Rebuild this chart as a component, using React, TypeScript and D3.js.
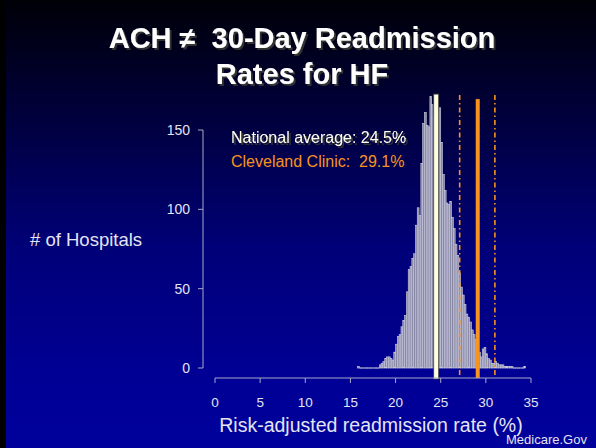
import React from "react";
import * as d3 from "d3";

const W = 596;
const H = 448;

// Histogram of risk-adjusted 30-day HF readmission rates
const binStart = 15.8;
const binWidth = 0.2;
const counts = [
  1, 0, 0, 0, 0, 0, 0, 0, 0, 0, 0, 0,
  2, 3, 4, 6, 7, 7, 6, 5, 10, 15, 20, 21, 26, 30, 33, 48, 62, 64, 69, 72,
  90, 101, 96, 129, 154, 161, 153, 152, 171, 166, 158, 160, 162, 164, 142,
  122, 112, 104, 103, 105, 95, 88, 78, 71, 60, 51, 46, 40, 34, 32, 29, 24,
  21, 18, 14, 10, 7, 12, 13, 9, 6, 5, 3, 3, 4, 3, 2, 2, 2, 1, 1, 1, 1, 1,
  0, 0, 0, 0, 0, 0, 1,
];

const xTicks = [0, 5, 10, 15, 20, 25, 30, 35];
const yTicks = [0, 50, 100, 150];

const nationalAverage = 24.5;
const clevelandClinic = 29.1;
const ciBounds = [27.1, 31.0];
const refLineTop = 172;

const titleLines = ["ACH \u2260\u00a0 30-Day Readmission", "Rates for HF"];

export default function App() {
  const x = d3.scaleLinear().domain([0, 35]).range([215, 531]);
  const y = d3.scaleLinear().domain([0, 150]).range([368, 130]);
  const axisY = 378;
  const axisX = 203;
  const font = "'Liberation Sans', Arial, sans-serif";
  const tickColor = "#a8a8c8";
  const labelColor = "#e4e4f2";

  const bins = counts.map((c, i) => ({
    x0: binStart + i * binWidth,
    x1: binStart + (i + 1) * binWidth,
    c,
  }));

  return (
    <svg
      width={W}
      height={H}
      style={{ position: "fixed", left: 0, top: 0, display: "block" }}
    >
      <defs>
        <linearGradient id="bg" x1="0" y1="0" x2="0" y2="1">
          <stop offset="0" stopColor="#000008" />
          <stop offset="0.25" stopColor="#00003a" />
          <stop offset="0.55" stopColor="#000078" />
          <stop offset="0.85" stopColor="#000096" />
          <stop offset="1" stopColor="#00009c" />
        </linearGradient>
        <filter id="shadow" x="-10%" y="-30%" width="120%" height="160%">
          <feDropShadow dx="2" dy="2" stdDeviation="0.6" floodColor="#303030" floodOpacity="1" />
        </filter>
      </defs>
      <rect x={0} y={0} width={W} height={H} fill="url(#bg)" />
      <rect x={0} y={0} width={6} height={H} fill="#000000" />

      {/* Title */}
      {titleLines.map((t, i) => (
        <text
          key={i}
          x={302}
          y={48 + i * 36}
          textAnchor="middle"
          fontFamily={font}
          fontWeight="bold"
          fontSize={29}
          fill="#ffffff"
          filter="url(#shadow)"
        >
          {t}
        </text>
      ))}

      {/* Histogram bars */}
      <g>
        {bins.map((b, i) =>
          b.c > 0 ? (
            <rect
              key={i}
              x={x(b.x0)}
              y={y(b.c)}
              width={x(b.x1) - x(b.x0)}
              height={y(0) - y(b.c)}
              fill="#8888a6"
              stroke="#cfcfe0"
              strokeWidth={0.6}
            />
          ) : (
            <line
              key={i}
              x1={x(b.x0)}
              x2={x(b.x1)}
              y1={y(0)}
              y2={y(0)}
              stroke="#cfcfe0"
              strokeWidth={1.2}
            />
          )
        )}
      </g>

      {/* Confidence bounds */}
      {ciBounds.map((v, i) => (
        <line
          key={i}
          x1={x(v)}
          x2={x(v)}
          y1={y(refLineTop)}
          y2={axisY - 3}
          stroke="#f7931e"
          strokeWidth={1.6}
          strokeDasharray="5 3 1.5 3"
        />
      ))}

      {/* Cleveland Clinic line */}
      <rect
        x={x(clevelandClinic) - 2}
        y={y(refLineTop) + 4}
        width={4}
        height={axisY - (y(refLineTop) + 4)}
        fill="#f7931e"
      />

      {/* National average line */}
      <rect
        x={x(nationalAverage) - 2.5}
        y={y(refLineTop) - 1}
        width={5}
        height={axisY + 1 - (y(refLineTop) - 1)}
        fill="#ffffe0"
        stroke="#3a3a3a"
        strokeWidth={0.8}
      />

      {/* Y axis */}
      <line x1={axisX} x2={axisX} y1={y(150)} y2={y(0)} stroke={tickColor} strokeWidth={1} />
      {yTicks.map((t) => (
        <g key={t}>
          <line x1={axisX - 5} x2={axisX} y1={y(t)} y2={y(t)} stroke={tickColor} strokeWidth={1} />
          <text
            x={190}
            y={y(t)}
            dy="0.36em"
            textAnchor="end"
            fontFamily={font}
            fontSize={14}
            fill={labelColor}
          >
            {t}
          </text>
        </g>
      ))}

      {/* X axis */}
      <line x1={x(0)} x2={x(35)} y1={axisY} y2={axisY} stroke={tickColor} strokeWidth={1} />
      {xTicks.map((t) => (
        <g key={t}>
          <line x1={x(t)} x2={x(t)} y1={axisY} y2={axisY + 5} stroke={tickColor} strokeWidth={1} />
          <text
            x={x(t)}
            y={407}
            textAnchor="middle"
            fontFamily={font}
            fontSize={13.5}
            fill={labelColor}
          >
            {t}
          </text>
        </g>
      ))}

      {/* Axis titles */}
      <text x={371} y={432} textAnchor="middle" fontFamily={font} fontSize={19.5} fill={labelColor}>
        Risk-adjusted readmission rate (%)
      </text>
      <text x={30} y={246} fontFamily={font} fontSize={18.5} fill={labelColor}>
        # of Hospitals
      </text>

      {/* Annotations */}
      <text x={231} y={143} fontFamily={font} fontSize={16} fill="#fffff0" filter="url(#shadow)">
        National average: 24.5%
      </text>
      <text x={231} y={166.5} fontFamily={font} fontSize={16} fill="#f7931e">
        {"Cleveland Clinic:\u00a0 29.1%"}
      </text>

      {/* Source */}
      <text x={506} y={444} fontFamily={font} fontSize={13} fill={labelColor}>
        Medicare.Gov
      </text>
    </svg>
  );
}
